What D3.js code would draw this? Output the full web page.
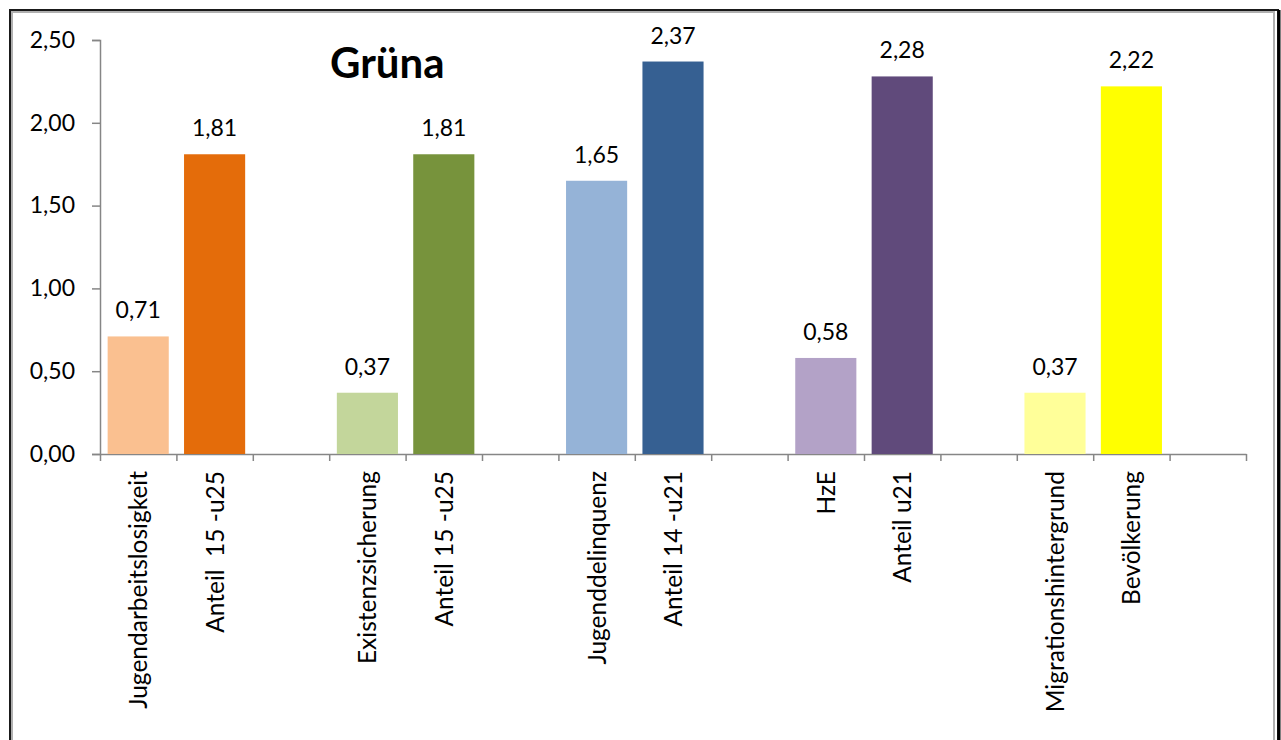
<!DOCTYPE html>
<html>
<head>
<meta charset="utf-8">
<script src="https://cdn.jsdelivr.net/npm/d3@7"></script>
<style>
  body { margin: 0; background: #fff; }
  text { font-family: Lato, "Open Sans", sans-serif; }
</style>
</head>
<body>
<div id="chart"></div>
<script>
// categories (empty slots keep the gaps between groups)
var categories = ["Jugendarbeitslosigkeit", "Anteil  15 -u25", "",
                  "Existenzsicherung", "Anteil 15 -u25", "",
                  "Jugenddelinquenz", "Anteil 14 -u21", "",
                  "HzE", "Anteil u21", "",
                  "Migrationshintergrund", "Bevölkerung", ""];
var values = [0.71, 1.81, null, 0.37, 1.81, null, 1.65, 2.37, null, 0.58, 2.28, null, 0.37, 2.22, null];
var colors = ["#FAC090", "#E46C0A", null, "#C3D69B", "#77933C", null,
              "#95B3D7", "#366092", null, "#B3A2C7", "#604A7B", null,
              "#FFFF99", "#FFFF00", null];
var yTicks = [0, 0.5, 1, 1.5, 2, 2.5];
var title = "Grüna";

var width = 1281, height = 740;
var margin = {top: 40, left: 100, right: 1246, bottom: 454};

var svg = d3.select("#chart")
  .append("svg")
    .attr("width", width)
    .attr("height", height);

var de = d3.formatLocale({decimal: ",", thousands: ".", grouping: [3], currency: ["", "€"]});
var fmt = de.format(".2f");

// frame
svg.append("rect")
  .attr("x", 12).attr("y", 12)
  .attr("width", 1262).attr("height", 740)
  .attr("fill", "none")
  .attr("stroke", "#b0b0b0")
  .attr("stroke-width", 2);
svg.append("rect")
  .attr("x", 10).attr("y", 10)
  .attr("width", 1268).attr("height", 740)
  .attr("fill", "none")
  .attr("stroke", "#1a1a1a")
  .attr("stroke-width", 2);
svg.append("line")
  .attr("x1", 1279).attr("x2", 1279)
  .attr("y1", 10).attr("y2", 740)
  .attr("stroke", "#000")
  .attr("stroke-width", 3);

var keys = categories.map(function(d, i) { return i; });

var x = d3.scaleBand()
  .domain(keys)
  .range([margin.left, margin.right])
  .paddingInner(0.2)
  .paddingOuter(0.1);

var xEdges = d3.scaleLinear()
  .domain([0, categories.length])
  .range([margin.left, margin.right]);

var y = d3.scaleLinear()
  .domain([0, 2.5])
  .range([margin.bottom, margin.top]);

// y axis
var yAxis = svg.append("g")
  .attr("transform", `translate(${margin.left},0)`)
  .call(d3.axisLeft(y).tickValues(yTicks).tickFormat(fmt).tickSize(8).tickPadding(17));
yAxis.select(".domain").attr("stroke", "#868686").attr("stroke-width", 1.5);
yAxis.selectAll(".tick line").attr("stroke", "#868686").attr("stroke-width", 1.5);
yAxis.selectAll(".tick text")
  .attr("fill", "#000")
  .style("font-size", "23px")
  .style("font-family", "Lato, 'Open Sans', sans-serif");

// x axis (ticks at the category edges)
var xAxis = svg.append("g")
  .attr("transform", `translate(0,${margin.bottom})`)
  .call(d3.axisBottom(xEdges).tickValues(d3.range(categories.length + 1)).tickFormat("").tickSize(7).tickSizeOuter(0));
xAxis.select(".domain").attr("stroke", "#868686").attr("stroke-width", 1.5);
xAxis.selectAll(".tick line").attr("stroke", "#868686").attr("stroke-width", 1.5);

// bars
var data = keys.filter(function(i) { return values[i] != null; });

svg.selectAll("rect.bar")
  .data(data)
  .enter().append("rect")
    .attr("class", "bar")
    .attr("x", function(i) { return x(i); })
    .attr("width", x.bandwidth())
    .attr("y", function(i) { return y(values[i]); })
    .attr("height", function(i) { return y(0) - y(values[i]); })
    .attr("fill", function(i) { return colors[i]; });

// value labels
svg.selectAll("text.val")
  .data(data)
  .enter().append("text")
    .attr("class", "val")
    .attr("x", function(i) { return x(i) + x.bandwidth() / 2; })
    .attr("y", function(i) { return y(values[i]) - 18; })
    .attr("text-anchor", "middle")
    .style("font-size", "23px")
    .text(function(i) { return fmt(values[i]); });

// category labels
svg.selectAll("text.cat")
  .data(keys.filter(function(i) { return categories[i] !== ""; }))
  .enter().append("text")
    .attr("class", "cat")
    .attr("transform", function(i) {
      return `translate(${x(i) + x.bandwidth() / 2 + 9},${margin.bottom + 17}) rotate(-90)`;
    })
    .attr("text-anchor", "end")
    .style("font-size", "24.5px")
    .style("white-space", "pre")
    .text(function(i) { return categories[i]; });

// title
svg.append("text")
  .attr("x", 330)
  .attr("y", 78)
  .style("font-size", "42px")
  .style("font-weight", "bold")
  .text(title);
</script>
</body>
</html>
